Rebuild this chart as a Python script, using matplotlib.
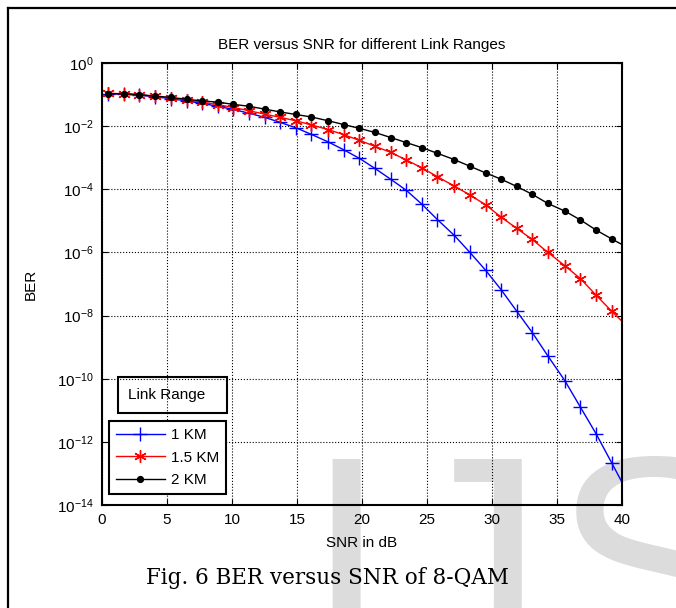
import numpy as np
import matplotlib.pyplot as plt
from matplotlib.patches import Rectangle
from matplotlib.lines import Line2D

plt.rcParams['font.family'] = ['Liberation Sans', 'DejaVu Sans']
plt.rcParams['mathtext.fontset'] = 'custom'
plt.rcParams['mathtext.rm'] = 'Liberation Sans'
plt.rcParams['mathtext.it'] = 'Liberation Sans:italic'

W, H = 676, 608

# SNR (dB) at the marker positions, the lines run on to 40 dB
snr = [0.46, 1.67, 2.88, 4.1, 5.3, 6.5, 7.7, 8.9, 10.1, 11.3, 12.5, 13.7, 14.9,
       16.1, 17.4, 18.6, 19.8, 21.0, 22.2, 23.4, 24.6, 25.8, 27.1, 28.3, 29.5,
       30.7, 31.9, 33.1, 34.3, 35.6, 36.8, 38.0, 39.2, 40.0]

# log10(BER)
exp_1km = [-0.97, -0.99, -1.02, -1.07, -1.13, -1.2, -1.28, -1.37, -1.47, -1.59,
           -1.72, -1.88, -2.05, -2.26, -2.5, -2.75, -3.02, -3.34, -3.68, -4.03,
           -4.47, -4.96, -5.46, -6.0, -6.56, -7.18, -7.86, -8.54, -9.28, -10.06,
           -10.9, -11.74, -12.66, -13.28]
exp_15km = [-0.96, -0.98, -1.01, -1.06, -1.11, -1.17, -1.24, -1.32, -1.41, -1.51,
            -1.62, -1.72, -1.83, -1.96, -2.11, -2.27, -2.45, -2.64, -2.83, -3.07,
            -3.32, -3.6, -3.9, -4.18, -4.49, -4.88, -5.24, -5.59, -6.0, -6.42,
            -6.83, -7.35, -7.86, -8.18]
exp_2km = [-0.97, -0.97, -1.0, -1.05, -1.09, -1.15, -1.2, -1.24, -1.31, -1.37,
           -1.46, -1.55, -1.63, -1.71, -1.83, -1.95, -2.07, -2.2, -2.36, -2.52,
           -2.68, -2.86, -3.06, -3.27, -3.48, -3.68, -3.91, -4.16, -4.45, -4.69,
           -4.97, -5.29, -5.57, -5.75]

labels = ['1 KM', '1.5 KM', '2 KM']
x_ticks = [0, 5, 10, 15, 20, 25, 30, 35, 40]
y_exps = [0, -2, -4, -6, -8, -10, -12, -14]

n_mark = len(snr) - 1


def fx(x):
    return x / W


def fy(y):
    return 1 - y / H


fig = plt.figure(figsize=(W / 100, H / 100), dpi=100)
fig.patch.set_facecolor('white')

# outer frame (left and top edges only)
fig.add_artist(Line2D([fx(8), fx(8)], [fy(8), 0], color='black', lw=1.6))
fig.add_artist(Line2D([fx(8), 1], [fy(8), fy(8)], color='black', lw=1.6))

# watermark
for ch, xc in [('I', 346), ('J', 468), ('S', 652)]:
    fig.text(fx(xc), fy(448), ch, fontsize=216, color='#dcdcdc',
             ha='center', va='top', zorder=-5, family='Liberation Sans')

ax = fig.add_axes([fx(102), fy(505), 520 / W, 442 / H])
ax.patch.set_visible(False)

ax.plot(snr, 10 ** np.array(exp_1km), color='#0000ff', lw=1, marker='+',
        ms=10, mew=1, markevery=list(range(n_mark)), label=labels[0])
ax.plot(snr, 10 ** np.array(exp_15km), color='#ff0000', lw=1, marker=(6, 2, 0),
        ms=9, mew=1, markevery=list(range(n_mark)), label=labels[1])
ax.plot(snr, 10 ** np.array(exp_2km), color='black', lw=1, marker='o',
        ms=4.2, markevery=list(range(n_mark)), label=labels[2])

ax.set_yscale('log')
ax.set_xlim(0, 40)
ax.set_ylim(1e-14, 1e0)
ax.set_xticks(x_ticks)
ax.set_xticklabels([str(v) for v in x_ticks])
ax.set_yticks([10.0 ** e for e in y_exps])
ax.set_yticklabels(['$10^{%d}$' % e for e in y_exps])
ax.minorticks_off()
ax.tick_params(direction='in', top=True, right=True, labelsize=11, length=4,
               width=0.8, pad=6)
ax.grid(True, linestyle=':', color='black', lw=0.8)
for s in ax.spines.values():
    s.set_linewidth(1.5)

ax.set_xlabel('SNR in dB', fontsize=11, labelpad=6)
ax.set_ylabel('BER', fontsize=11, labelpad=14)
ax.set_title('BER versus SNR for different Link Ranges', fontsize=11, pad=10)

leg = ax.legend(loc='lower left', bbox_to_anchor=(fx(109), fy(494)),
                bbox_transform=fig.transFigure, borderaxespad=0, fontsize=11,
                numpoints=1, handlelength=3.2, handletextpad=0.4,
                labelspacing=0.55, borderpad=0.45, fancybox=False,
                framealpha=1, edgecolor='black')
leg.get_frame().set_linewidth(1.5)

# legend title box
fig.add_artist(Rectangle((fx(118), fy(413)), fx(109), 36 / H, fill=False,
                         edgecolor='black', lw=1.5,
                         transform=fig.transFigure))
fig.text(fx(128), fy(395), 'Link Range', fontsize=11, va='center', ha='left')

fig.text(fx(327), fy(578), 'Fig. 6 BER versus SNR of 8-QAM', fontsize=15.5,
         family='DejaVu Serif', ha='center', va='center')

fig.savefig('out.png', dpi=100)
